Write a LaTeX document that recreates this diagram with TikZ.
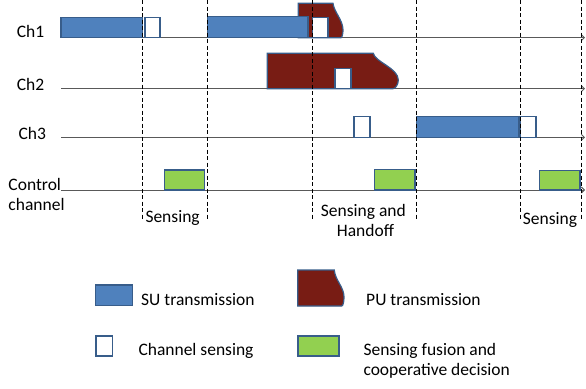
\documentclass[tikz,border=0pt]{standalone}
\usepackage{fontspec}
\setmainfont{Carlito}
\usepackage{xcolor}
\usepackage{tikz}
\usetikzlibrary{arrows.meta}
\definecolor{sublue}{HTML}{4F81BD}
\definecolor{edgeblue}{HTML}{385D8A}
\definecolor{pured}{HTML}{781C14}
\definecolor{fusegreen}{HTML}{92D050}
\definecolor{axisgray}{HTML}{595959}
\tikzset{
  slot/.style={
    draw = edgeblue,
    line width = 1.2pt,
    inner sep = 0pt,
    outer sep = 0pt,
    anchor = south west
  },
  su/.style={slot, fill = sublue},
  sense/.style={slot, fill = white},
  fuse/.style={slot, fill = fusegreen},
  pu/.style={draw = edgeblue, line width = 1.2pt, fill = pured},
  timeline/.style={
    draw = axisgray,
    line width = 0.9pt,
    -{Straight Barb[length=3pt, width=6pt]}
  },
  slotline/.style={
    draw = black,
    line width = 0.7pt,
    dash pattern = on 4pt off 2.5pt
  },
  lbl/.style={
    font = \fontsize{17.5}{21}\selectfont,
    inner sep = 0pt,
    anchor = base west
  }
}

\begin{document}
\begin{tikzpicture}[x=1pt, y=-1pt]
\useasboundingbox (0,0) rectangle (586,388);

% time lines
\coordinate (ch1start) at (61,37.7);
\coordinate (ch1end)   at (585,37.7);
\coordinate (ch2start) at (61,88.7);
\coordinate (ch2end)   at (585,88.7);
\coordinate (ch3start) at (61,137.3);
\coordinate (ch3end)   at (585,137.3);
\coordinate (ctrlstart) at (61,190);
\coordinate (ctrlend)   at (585,190);
\draw[timeline] (ch1start) -- (ch1end);
\draw[timeline] (ch2start) -- (ch2end);
\draw[timeline] (ch3start) -- (ch3end);
\draw[timeline] (ctrlstart) -- (ctrlend);

\node[lbl] (lch1) at (16.7,37.3) {Ch1};
\node[lbl] (lch2) at (16.7,90) {Ch2};
\node[lbl] (lch3) at (18.3,139.3) {Ch3};
\node[lbl] (lctrl) at (8.3,190.3) {Control};
\node[lbl] (lctrlb) at (8.3,210.7) {channel};

% PU transmissions
\draw[pu] (298.3,37.7) -- (298.3,3.3) -- (333,3.3)
  .. controls (334,12) and (343,20) .. (343,30)
  .. controls (343,34) and (342,37.7) .. (341,37.7) -- cycle;
\draw[pu] (267.3,88.7) -- (267.3,53.3) -- (373.3,53.3)
  .. controls (375,62) and (398.3,68) .. (398.3,80)
  .. controls (398.3,85) and (395,88.7) .. (393,88.7) -- cycle;

% Ch1
\node[su, minimum width=81.5, minimum height=20] (su1a) at (61,37.7) {};
\node[sense, minimum width=15, minimum height=20] (sense1a) at (145,37.7) {};
\node[su, minimum width=100.5, minimum height=21] (su1b) at (207.5,37.7) {};
\node[sense, minimum width=15.5, minimum height=20.5] (sense1b) at (312.5,37.7) {};

% Ch2
\node[sense, minimum width=16, minimum height=20.4] (sense2) at (335,88.7) {};

% Ch3
\node[sense, minimum width=16, minimum height=20.6] (sense3a) at (354,137.3) {};
\node[su, minimum width=102.3, minimum height=20.6] (su3) at (416.7,137.3) {};
\node[sense, minimum width=15.5, minimum height=20.6] (sense3b) at (520.5,137.3) {};

% control channel
\node[fuse, minimum width=40, minimum height=20] (fuse1) at (164.3,190) {};
\node[fuse, minimum width=40.7, minimum height=20.7] (fuse2) at (374.3,190) {};
\node[fuse, minimum width=40.7, minimum height=19.3] (fuse3) at (539.3,190) {};

% phase borders
\draw[slotline] (142.7,0) -- (142.7,220);
\draw[slotline] (207.3,0) -- (207.3,220);
\draw[slotline] (312.3,0) -- (312.3,220);
\draw[slotline] (416,0) -- (416,220);
\draw[slotline] (520.7,0) -- (520.7,220);
\draw[slotline] (581.7,0) -- (581.7,220);

\node[lbl] (phase1) at (145.3,222.7) {Sensing};
\node[lbl] (phase2) at (320.7,216) {Sensing and};
\node[lbl] (phase2b) at (336.7,236) {Handoff};
\node[lbl] (phase3) at (522.7,224) {Sensing};

% legend
\node[su, minimum width=36.6, minimum height=20.7] (keysu) at (95.7,305.7) {};
\node[lbl] (keysutext) at (141,305.3) {SU transmission};
\draw[pu] (297.7,306) -- (297.7,270) -- (334.3,270)
  .. controls (335,280) and (344,287) .. (344,297)
  .. controls (344,302) and (343,306) .. (341.7,306) -- cycle;
\node[lbl] (keyputext) at (366,305.3) {PU transmission};
\node[sense, minimum width=16.7, minimum height=20] (keysense) at (96,356) {};
\node[lbl] (keysensetext) at (138.3,355) {Channel sensing};
\node[fuse, minimum width=41, minimum height=20] (keyfuse) at (298,356) {};
\node[lbl] (keyfusetext) at (363.3,355) {Sensing fusion and};
\node[lbl] (keyfusetextb) at (363.3,375.5) {cooperative decision};
\end{tikzpicture}
\end{document}
